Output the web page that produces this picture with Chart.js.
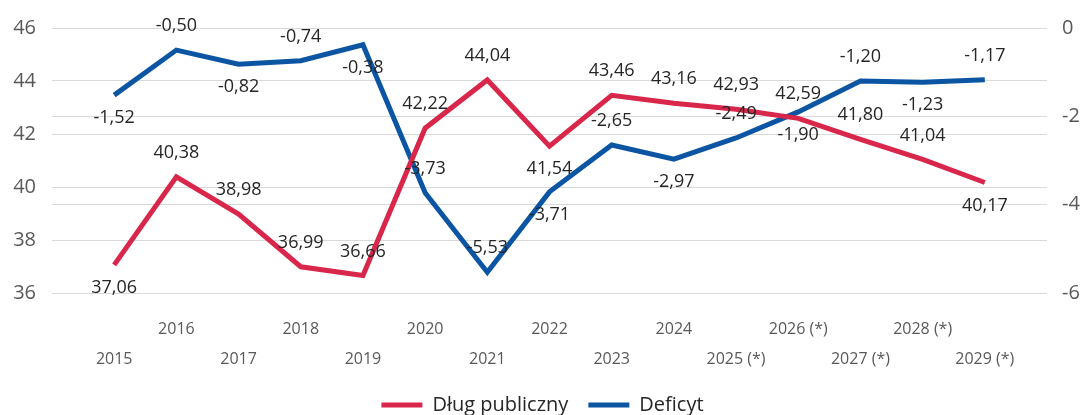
<!DOCTYPE html>
<html>
<head>
<meta charset="utf-8">
<script src="https://cdn.jsdelivr.net/npm/chart.js@4/dist/chart.umd.min.js"></script>
<style>
  html, body { margin: 0; padding: 0; background: #fff; }
</style>
</head>
<body>
<canvas id="chart" width="1085" height="415"></canvas>
<script>
const years = [2015, 2016, 2017, 2018, 2019, 2020, 2021, 2022, 2023, 2024, 2025, 2026, 2027, 2028, 2029];
const yearLabels = ['2015', '2016', '2017', '2018', '2019', '2020', '2021', '2022', '2023', '2024',
  '2025 (*)', '2026 (*)', '2027 (*)', '2028 (*)', '2029 (*)'];
const debt = [37.06, 40.38, 38.98, 36.99, 36.66, 42.22, 44.04, 41.54, 43.46, 43.16, 42.93, 42.59, 41.80, 41.04, 40.17];
const deficit = [-1.52, -0.50, -0.82, -0.74, -0.38, -3.73, -5.53, -3.71, -2.65, -2.97, -2.49, -1.90, -1.20, -1.23, -1.17];

// where each value label sits relative to its point
const debtLabelPos = ['b', 'a', 'a', 'a', 'a', 'a', 'a', 'b', 'a', 'a', 'a', 'a', 'a', 'a', 'b'];
const deficitLabelPos = ['b', 'a', 'b', 'a', 'b', 'a', 'a', 'b', 'a', 'b', 'a', 'b', 'a', 'b', 'a'];

const RED = '#d9264b';
const BLUE = '#0b55a3';
const FONT = "'Open Sans', 'Noto Sans', sans-serif";

const fmt = (v) => v.toFixed(2).replace('.', ',');

const valueLabels = {
  id: 'valueLabels',
  afterDatasetsDraw(chart) {
    const ctx = chart.ctx;
    ctx.save();
    ctx.font = '18px ' + FONT;
    ctx.fillStyle = '#262626';
    ctx.textAlign = 'center';
    ctx.textBaseline = 'middle';
    chart.data.datasets.forEach((ds, di) => {
      const pos = di === 0 ? debtLabelPos : deficitLabelPos;
      chart.getDatasetMeta(di).data.forEach((pt, i) => {
        const dy = pos[i] === 'a' ? -24 : 23;
        ctx.fillText(fmt(ds.data[i].y), pt.x, pt.y + dy);
      });
    });
    ctx.restore();
  }
};

new Chart(document.getElementById('chart'), {
  type: 'line',
  data: {
    datasets: [{
      label: 'Dług publiczny',
      data: years.map((y, i) => ({ x: y, y: debt[i] })),
      borderColor: RED,
      backgroundColor: RED,
      borderWidth: 5,
      pointRadius: 0,
      yAxisID: 'y'
    }, {
      label: 'Deficyt',
      data: years.map((y, i) => ({ x: y, y: deficit[i] })),
      borderColor: BLUE,
      backgroundColor: BLUE,
      borderWidth: 5,
      pointRadius: 0,
      yAxisID: 'y1'
    }]
  },
  options: {
    responsive: false,
    animation: false,
    layout: { padding: { top: 27, left: 0, right: 0, bottom: -10 } },
    plugins: {
      tooltip: { enabled: false },
      legend: {
        position: 'bottom',
        labels: {
          font: { family: FONT, size: 20 },
          color: '#262626',
          boxWidth: 41,
          boxHeight: 5,
          padding: 20,
          generateLabels(chart) {
            return Chart.defaults.plugins.legend.labels.generateLabels(chart)
              .map((l) => Object.assign(l, { lineWidth: 0 }));
          }
        }
      }
    },
    scales: {
      x: {
        type: 'linear',
        min: 2014,
        max: 2030,
        grid: { display: false },
        border: { display: false },
        afterFit(scale) { scale.height = 82; },
        ticks: {
          stepSize: 1,
          autoSkip: false,
          maxRotation: 0,
          padding: 13,
          color: '#595959',
          font: { family: FONT, size: 16, lineHeight: 1.875 },
          callback(v) {
            const i = years.indexOf(v);
            if (i < 0) return '';
            return i % 2 === 1 ? [yearLabels[i], ''] : ['', yearLabels[i]];
          }
        }
      },
      y: {
        position: 'left',
        min: 36,
        max: 46,
        afterFit(scale) { scale.width = 52; },
        grid: { color: '#d9d9d9', drawTicks: false },
        border: { display: false },
        ticks: { stepSize: 2, padding: 16, color: '#595959', font: { family: FONT, size: 20 } }
      },
      y1: {
        position: 'right',
        min: -6,
        max: 0,
        afterFit(scale) { scale.width = 38; },
        grid: { color: '#d9d9d9', drawTicks: false },
        border: { display: false },
        ticks: { stepSize: 2, padding: 15, color: '#595959', font: { family: FONT, size: 20 } }
      }
    }
  },
  plugins: [valueLabels]
});
</script>
</body>
</html>
